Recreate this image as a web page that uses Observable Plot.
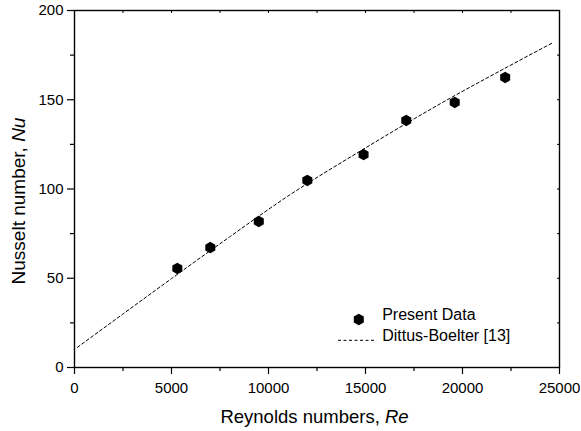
<!DOCTYPE html>
<html>
<head>
<meta charset="utf-8">
<script src="https://cdn.jsdelivr.net/npm/d3@7"></script>
<script src="https://cdn.jsdelivr.net/npm/@observablehq/plot@0.6"></script>
<style>
  body { margin: 0; background: #fff; }
  #chart { width: 581px; height: 431px; }
  svg { font-family: "Liberation Sans", Arial, sans-serif; }
</style>
</head>
<body>
<div id="chart"></div>
<script>
// Present data
const reynolds = [5300, 7000, 9500, 12000, 14900, 17100, 19600, 22200];
const nusselt  = [55.5, 67.2, 81.8, 104.8, 119.3, 138.4, 148.5, 162.5];

// Dittus-Boelter correlation curve
const dbRe = [150, 2500, 5000, 8000, 11000, 15000, 18700, 22300, 24700];
const dbNu = [11.3, 30.0, 49.8, 73.2, 96.0, 123.0, 146.8, 168.3, 182.2];

// Axis ticks
const xMajor = [0, 5000, 10000, 15000, 20000, 25000];
const xMinor = [2500, 7500, 12500, 17500, 22500];
const yMajor = [0, 50, 100, 150, 200];
const yMinor = [25, 75, 125, 175];

const legendLabels = ["Present Data", "Dittus-Boelter [13]"];

const points = reynolds.map((r, i) => ({re: r, nu: nusselt[i]}));
const curve = dbRe.map((r, i) => ({re: r, nu: dbNu[i]}));

const FS = 15;
const LFS = 16;
const font = '"Liberation Sans", Arial, sans-serif';

function axisLabels(index, scales, values, dims) {
  const g = d3.create("svg:g").attr("font-family", font).attr("fill", "black");
  const cx = (dims.marginLeft + dims.width - dims.marginRight) / 2;
  const t1 = g.append("text").attr("x", cx - 2).attr("y", 422.5).attr("text-anchor", "middle").attr("font-size", 18.5);
  t1.append("tspan").text("Reynolds numbers, ");
  t1.append("tspan").attr("font-style", "italic").text("Re");
  const t2 = g.append("text").attr("transform", `translate(25,201) rotate(-90)`).attr("text-anchor", "middle").attr("font-size", 19);
  t2.append("tspan").text("Nusselt number, ");
  t2.append("tspan").attr("font-style", "italic").text("Nu");
  return g.node();
}

function legendLine(index, scales, values, dims) {
  const right = dims.width - dims.marginRight;
  const bottom = dims.height - dims.marginBottom;
  return d3.create("svg:line")
    .attr("x1", right - 221).attr("x2", right - 183)
    .attr("y1", bottom - 26.7).attr("y2", bottom - 26.7)
    .attr("stroke", "black").attr("stroke-width", 1)
    .attr("stroke-dasharray", "3,2.5").node();
}

const chart = Plot.plot({
  width: 581,
  height: 431,
  marginLeft: 74,
  marginRight: 22,
  marginTop: 10,
  marginBottom: 64,
  style: {fontFamily: font, fontSize: FS + "px", color: "black", background: "white"},
  x: {domain: [0, 25000]},
  y: {domain: [0, 200]},
  marks: [
    Plot.axisX({ticks: xMajor, tickSize: 7, tickPadding: 8, tickFormat: d => String(d), fontSize: FS, label: null, strokeWidth: 1.2}),
    Plot.axisX({ticks: xMinor, tickSize: 4, text: null, label: null, strokeWidth: 1.2}),
    Plot.axisY({ticks: yMajor, tickSize: 7, tickPadding: 4, tickFormat: d => String(d), fontSize: FS, label: null, strokeWidth: 1.2}),
    Plot.axisY({ticks: yMinor, tickSize: 4, text: null, label: null, strokeWidth: 1.2}),
    Plot.axisX({anchor: "top", ticks: xMajor.concat(xMinor), tickSize: -2, text: null, label: null}),
    Plot.axisY({anchor: "right", ticks: yMajor.concat(yMinor), tickSize: -3, text: null, label: null}),
    Plot.line(curve, {x: "re", y: "nu", stroke: "black", strokeWidth: 1, strokeDasharray: "3,2.5", curve: "monotone-x"}),
    Plot.dot(points, {x: "re", y: "nu", symbol: "hexagon", r: 5, fill: "black", stroke: "none"}),
    Plot.frame({stroke: "black", strokeWidth: 1.4}),
    // legend
    Plot.dot([legendLabels[0]], {frameAnchor: "bottom-right", dx: -200.7, dy: -48, symbol: "hexagon", r: 5, fill: "black", stroke: "none"}),
    Plot.text([legendLabels[0]], {frameAnchor: "bottom-right", dx: -177.3, dy: -47.8, textAnchor: "start", fontSize: LFS, fill: "black"}),
    legendLine,
    Plot.text([legendLabels[1]], {frameAnchor: "bottom-right", dx: -177.3, dy: -26.4, textAnchor: "start", fontSize: LFS, fill: "black"}),
    axisLabels
  ]
});
document.getElementById("chart").appendChild(chart);
</script>
</body>
</html>
